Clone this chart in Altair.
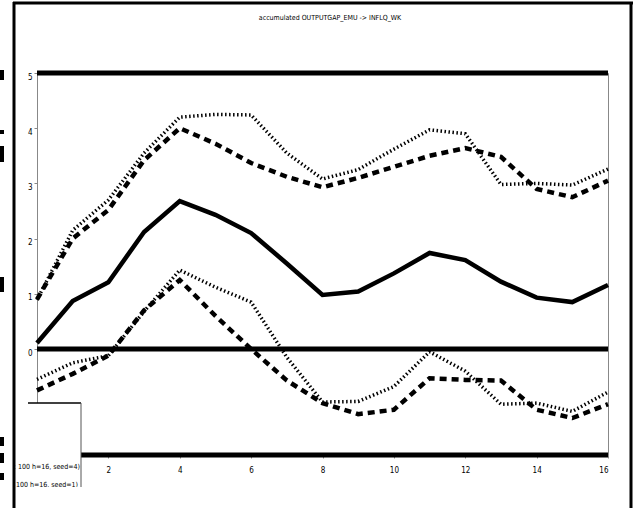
import altair as alt
import pandas as pd

# horizon steps and the accumulated response bands
steps = list(range(17))
median = [0.11, 0.87, 1.21, 2.12, 2.68, 2.43, 2.10, 1.55, 0.98, 1.04, 1.37, 1.74, 1.61, 1.22, 0.93, 0.85, 1.16]
upper_dotted = [0.89, 2.15, 2.7, 3.55, 4.2, 4.25, 4.24, 3.55, 3.08, 3.25, 3.62, 3.97, 3.9, 2.98, 3.0, 2.97, 3.26]
upper_dashed = [0.9, 2.0, 2.52, 3.42, 4.0, 3.72, 3.37, 3.12, 2.93, 3.1, 3.3, 3.5, 3.64, 3.48, 2.9, 2.75, 3.05]
lower_dotted = [-0.55, -0.25, -0.12, 0.68, 1.43, 1.12, 0.85, -0.15, -0.96, -0.95, -0.68, -0.05, -0.4, -1.0, -0.98, -1.13, -0.78]
lower_dashed = [-0.75, -0.45, -0.12, 0.7, 1.25, 0.6, 0.0, -0.57, -0.98, -1.18, -1.1, -0.53, -0.56, -0.57, -1.1, -1.25, -1.0]

y_lo, y_hi = -1.92, 5.0
x_ticks = [2, 4, 6, 8, 10, 12, 14, 16]
y_ticks = [0, 1, 2, 3, 4, 5]
heavy_levels = [y_hi, 0.0, y_lo]

title_text = "accumulated OUTPUTGAP_EMU -> INFLQ_WK"
legend_lines = [": 100 h=16, seed=4)", "100 h=16, seed=1)"]

FONT = "Liberation Sans Narrow, DejaVu Sans Condensed, Liberation Sans"

x_scale = alt.Scale(domain=[0, 16], nice=False, zero=False)
y_scale = alt.Scale(domain=[y_lo, y_hi], nice=False, zero=False)

x_enc = alt.X("t:Q", scale=x_scale, title=None,
              axis=alt.Axis(values=x_ticks, format="d", grid=False, domainColor="#888888",
                            tickColor="#888888", tickSize=3, labelFontSize=8, labelFont=FONT,
                            labelPadding=8, labelColor="black"))
y_enc = alt.Y("v:Q", scale=y_scale, title=None,
              axis=alt.Axis(values=y_ticks, format="d", grid=False, domainColor="#888888",
                            tickColor="#888888", tickSize=3, labelFontSize=8, labelFont=FONT,
                            labelBaseline="top", labelPadding=2, labelColor="black"))


def series(vals):
    return pd.DataFrame({"t": steps, "v": vals})


def band_line(vals, width, dash=None):
    kw = dict(color="black", strokeWidth=width, strokeCap="butt", strokeJoin="miter")
    if dash:
        kw["strokeDash"] = dash
    return alt.Chart(series(vals)).mark_line(**kw).encode(x=x_enc, y=y_enc)


dot = [1.5, 2.5]
dash = [7, 5]
lines = [
    band_line(upper_dotted, 3.5, dot),
    band_line(lower_dotted, 3.5, dot),
    band_line(upper_dashed, 4.5, dash),
    band_line(lower_dashed, 4.5, dash),
    band_line(median, 4.5),
]

heavy = alt.Chart(pd.DataFrame({"v": heavy_levels})).mark_rule(
    color="black", strokeWidth=5).encode(y=y_enc)

one = pd.DataFrame({"k": [0]})


def deco_rule(color, width, **enc):
    return alt.Chart(one).mark_rule(color=color, strokeWidth=width).encode(
        **{k: alt.value(v) for k, v in enc.items()})


def deco_rect(**enc):
    return alt.Chart(one).mark_rect(fill="white").encode(
        **{k: alt.value(v) for k, v in enc.items()})


def deco_text(s, x, y, size, align="center"):
    return alt.Chart(one).mark_text(
        fontSize=size, font=FONT, color="black", align=align, baseline="middle").encode(
        x=alt.value(x), y=alt.value(y), text=alt.value(s))


# legend box, partly cut off at the left and bottom
legend = [
    deco_rect(x=-9, x2=44, y=330, y2=435),
    deco_rule("black", 1.5, x=-9, x2=44, y=330),
    deco_rule("#555555", 1, x=44, y=330, y2=418),
    deco_text(legend_lines[0], 43, 394, 7, align="right"),
    deco_text(legend_lines[1], 41, 412, 7, align="right"),
    deco_rect(x=-21, x2=60, y=414, y2=440),
]

title = deco_text(title_text, 293, -55, 7)

# outer figure frame
frame = [
    deco_rule("black", 3, x=-23, y=-71, y2=440),
    deco_rule("black", 3, x=-24, x2=596, y=-70),
    deco_rule("black", 3, x=594, y=-71, y2=440),
]

# clipped fragments of a rotated side label at the far left
frag_spans = [(-3, 7), (57, 61), (73, 89), (204, 219), (364, 373), (380, 390), (400, 407)]
fragments = [deco_rule("black", 4, x=-35, y=a, y2=b) for a, b in frag_spans]

chart = alt.layer(
    *lines, heavy, *legend, title, *frame, *fragments,
).properties(
    width=571, height=382,
    autosize=alt.AutoSizeParams(type="none"),
    padding={"left": 37, "top": 73, "right": 27, "bottom": 53},
).configure_view(stroke="#888888", strokeWidth=1)

chart.save("out.html", embed_options={"renderer": "svg", "actions": False})
